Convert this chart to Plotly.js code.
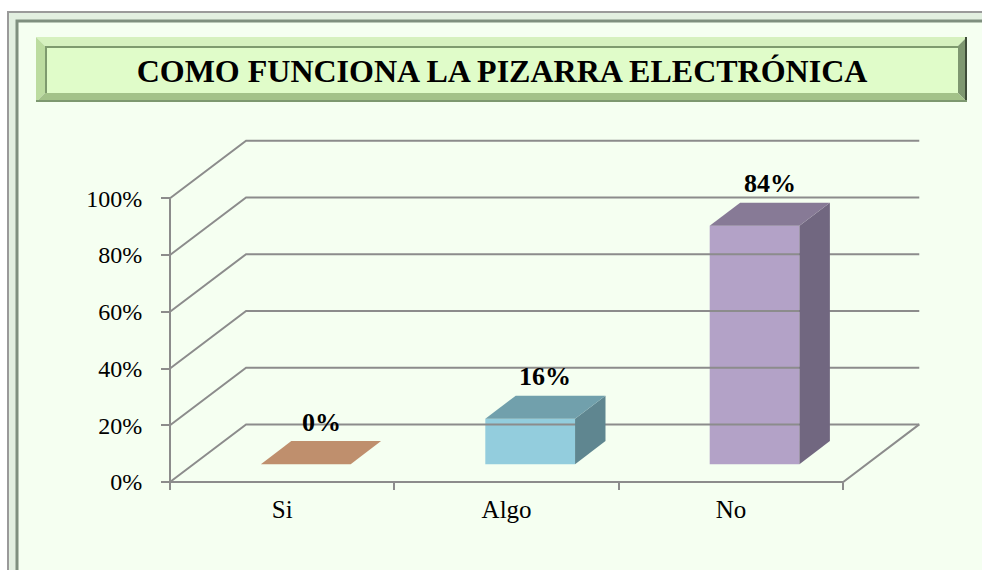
<!DOCTYPE html>
<html>
<head>
<meta charset="utf-8">
<script src="https://cdn.plot.ly/plotly-3.0.1.min.js"></script>
<style>
  html, body { margin: 0; padding: 0; background: #ffffff; }
  #chart { width: 982px; height: 570px; }
</style>
</head>
<body>
<div id="chart"></div>
<script>
// ---- data ----
const categories = ['Si', 'Algo', 'No'];
const values = [0, 16, 84];
const yTickVals = [0, 20, 40, 60, 80, 100];
const yTickText = ['0%', '20%', '40%', '60%', '80%', '100%'];
const titleText = 'COMO FUNCIONA LA PIZARRA ELECTRÓNICA';

// ---- styles ----
const frontColors = ['#D39C74', '#93CDDD', '#B3A2C7'];
const topColors = ['#BF8F6D', '#71A0AC', '#877A96'];
const sideColors = ['#A27758', '#5F8690', '#716780'];
const gridColor = '#8C8C8C';
const FONT = 'Liberation Serif';

// ---- 3D projection parameters (axis units) ----
const DX = 0.339;   // depth offset along x
const DY = 20.3;    // depth offset along y
const F_START = 0.31, F_DEPTH = 0.40, BW = 0.4;
const XS = F_START * DX, BASE = F_START * DY;
const DDX = F_DEPTH * DX, DDY = F_DEPTH * DY;
const XMIN = -0.5, XMAX = categories.length - 0.5;

// ---- layout geometry (pixels) ----
const W = 982, H = 570;
const M = { l: 100, r: 56, t: 130, b: 60 };
const PW = W - M.l - M.r, PH = H - M.t - M.b;
const plotLeftPx = 163.3, axisXPx = 170, axisYPx = 482, plotBottomPx = 486.3, plotTopPx = 135.9;
const px2paperX = p => (p - M.l) / PW;
const px2paperY = p => (H - M.b - p) / PH;

// ---- traces ----
const traces = [];

// walls / grid
const gx = [], gy = [];
yTickVals.forEach(t => {
  gx.push(XMIN, XMIN + DX, XMAX + DX, null);
  gy.push(t, t + DY, t + DY, null);
});
// floor front edge, right edge, y axis line
gx.push(XMIN, XMAX, XMAX + DX, null, XMIN, XMIN);
gy.push(0, 0, DY, null, 0, yTickVals[yTickVals.length - 1]);
traces.push({
  type: 'scatter', mode: 'lines', x: gx, y: gy,
  line: { color: gridColor, width: 2 }, hoverinfo: 'skip', showlegend: false
});

// side and top faces
categories.forEach((c, i) => {
  const v = values[i];
  const xl = i - BW / 2 + XS, xr = i + BW / 2 + XS;
  traces.push({
    type: 'scatter', mode: 'lines', fill: 'toself',
    x: [xr, xr + DDX, xr + DDX, xr, xr],
    y: [BASE, BASE + DDY, BASE + v + DDY, BASE + v, BASE],
    fillcolor: sideColors[i], line: { width: 0, color: sideColors[i] },
    hoverinfo: 'skip', showlegend: false
  });
  traces.push({
    type: 'scatter', mode: 'lines', fill: 'toself',
    x: [xl, xr, xr + DDX, xl + DDX, xl],
    y: [BASE + v, BASE + v, BASE + v + DDY, BASE + v + DDY, BASE + v],
    fillcolor: topColors[i], line: { width: 0, color: topColors[i] },
    hoverinfo: 'skip', showlegend: false
  });
});

// front faces as bars
traces.push({
  type: 'bar',
  x: categories.map((c, i) => i),
  y: values,
  base: values.map(() => BASE),
  width: BW,
  offset: -BW / 2 + XS,
  marker: { color: frontColors, line: { width: 0 } },
  hoverinfo: 'skip', showlegend: false
});

// data labels
const annotations = categories.map((c, i) => ({
  x: i + XS + DDX / 2, y: BASE + values[i], xref: 'x', yref: 'y',
  text: '<b>' + values[i] + '%</b>', showarrow: false, yanchor: 'middle', xanchor: 'center',
  yshift: 42,
  font: { family: FONT, size: 26, color: '#000' }
}));

// ---- frame shapes ----
const rectPx = (x0, y0, x1, y1, fill, lineColor, lineW) => ({
  type: 'rect', xref: 'paper', yref: 'paper', layer: 'below',
  x0: px2paperX(x0), x1: px2paperX(x1), y0: px2paperY(y0), y1: px2paperY(y1),
  fillcolor: fill, line: { color: lineColor || 'rgba(0,0,0,0)', width: lineW || 0 }
});
const polyPx = (pts, fill) => ({
  type: 'path', xref: 'paper', yref: 'paper', layer: 'below',
  path: 'M' + pts.map(p => px2paperX(p[0]) + ',' + px2paperY(p[1])).join('L') + 'Z',
  fillcolor: fill, line: { width: 0 }
});
const linePx = (x0, y0, x1, y1, color, w) => ({
  type: 'line', xref: 'paper', yref: 'paper', layer: 'below',
  x0: px2paperX(x0), x1: px2paperX(x1), y0: px2paperY(y0), y1: px2paperY(y1),
  line: { color: color, width: w }
});

const tb = { x0: 36, y0: 37, x1: 967, y1: 102, b: 9 };
const shapes = [
  rectPx(8, 12, 1000, 600, '#E2EFE0', '#9A9A9A', 2),
  rectPx(17, 21, 1000, 600, '#F5FFF1', '#7F8F7F', 3),
  // title box bevel
  polyPx([[tb.x0, tb.y0], [tb.x1, tb.y0], [tb.x1 - tb.b, tb.y0 + tb.b], [tb.x0 + tb.b, tb.y0 + tb.b]], '#D6F1BF'),
  polyPx([[tb.x0, tb.y0], [tb.x0 + tb.b, tb.y0 + tb.b], [tb.x0 + tb.b, tb.y1 - tb.b], [tb.x0, tb.y1]], '#BCDCA0'),
  polyPx([[tb.x1, tb.y0], [tb.x1, tb.y1], [tb.x1 - tb.b, tb.y1 - tb.b], [tb.x1 - tb.b, tb.y0 + tb.b]], '#7E9770'),
  polyPx([[tb.x0, tb.y1], [tb.x1, tb.y1], [tb.x1 - tb.b, tb.y1 - tb.b], [tb.x0 + tb.b, tb.y1 - tb.b]], '#A3C289'),
  linePx(tb.x1 - 1, tb.y0, tb.x1 - 1, tb.y1, '#3E4C39', 2),
  linePx(tb.x0, tb.y1 - 1, tb.x1, tb.y1 - 1, '#7D9870', 2),
  rectPx(tb.x0 + tb.b, tb.y0 + tb.b, tb.x1 - tb.b, tb.y1 - tb.b, '#E0FCC9', null, 0),
  linePx(tb.x0 + tb.b, tb.y0 + tb.b + 1, tb.x1 - tb.b, tb.y0 + tb.b + 1, '#7E9A6E', 2),
  linePx(tb.x0 + tb.b + 1, tb.y0 + tb.b, tb.x0 + tb.b + 1, tb.y1 - tb.b, '#7E9A6E', 2)
];

// ---- axes ----
const unitX = 224.4;
const xr0 = XMIN - (axisXPx - plotLeftPx) / unitX;
const xr1 = XMIN + (W - M.r - axisXPx) / unitX;
const unitY = 2.837;
const yr0 = -(plotBottomPx - axisYPx) / unitY;
const yr1 = (axisYPx - plotTopPx) / unitY;

const layout = {
  width: W, height: H,
  margin: M,
  paper_bgcolor: '#ffffff',
  plot_bgcolor: 'rgba(0,0,0,0)',
  showlegend: false,
  hovermode: false,
  title: {
    text: '<b>' + titleText + '</b>',
    x: 502 / W, xanchor: 'center', xref: 'container',
    y: 1 - 71 / H, yanchor: 'middle', yref: 'container',
    font: { family: FONT, size: 32, color: '#000' }
  },
  xaxis: {
    domain: [px2paperX(plotLeftPx), 1],
    range: [xr0, xr1],
    anchor: 'free', position: px2paperY(axisYPx),
    tickmode: 'array', tickvals: categories.map((c, i) => i), ticktext: categories,
    ticks: '', showgrid: false, zeroline: false, showline: false,
    tickfont: { family: FONT, size: 25, color: '#000' },
    ticklabelstandoff: 10,
    minor: {
      tickmode: 'array', tickvals: categories.map((c, i) => i - 0.5).concat([XMAX]),
      ticks: 'outside', ticklen: 7, tickwidth: 2, tickcolor: gridColor, showgrid: false
    },
    fixedrange: true
  },
  yaxis: {
    domain: [px2paperY(plotBottomPx), px2paperY(plotTopPx)],
    range: [yr0, yr1],
    anchor: 'free', position: px2paperX(axisXPx),
    tickmode: 'array', tickvals: yTickVals, ticktext: yTickText,
    ticks: 'outside', ticklen: 9, tickwidth: 2, tickcolor: gridColor,
    showgrid: false, zeroline: false, showline: false,
    tickfont: { family: FONT, size: 24, color: '#000' },
    ticklabelstandoff: 14,
    fixedrange: true
  },
  shapes: shapes,
  annotations: annotations
};

Plotly.newPlot('chart', traces, layout, { staticPlot: true, displayModeBar: false });
</script>
</body>
</html>
